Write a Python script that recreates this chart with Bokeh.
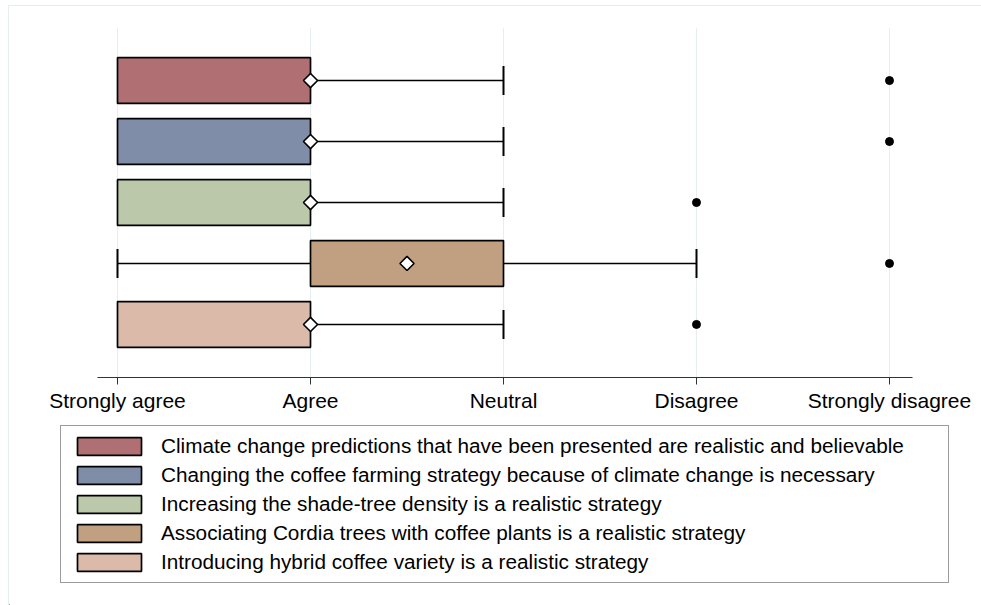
from bokeh.plotting import figure
from bokeh.layouts import column
from bokeh.models import Range1d, FixedTicker, Legend, LegendItem, ColumnDataSource
from bokeh.embed import file_html
from bokeh.resources import INLINE

# ---- data ----
statements = [
    "Climate change predictions that have been presented are realistic and believable",
    "Changing the coffee farming strategy because of climate change is necessary",
    "Increasing the shade-tree density is a realistic strategy",
    "Associating Cordia trees with coffee plants is a realistic strategy",
    "Introducing hybrid coffee variety is a realistic strategy",
]
rows = [1, 2, 3, 4, 5]
q1 = [1, 1, 1, 2, 1]
q3 = [2, 2, 2, 3, 2]
median = [2, 2, 2, 2.5, 2]
whisk_lo = [1, 1, 1, 1, 1]
whisk_hi = [3, 3, 3, 4, 3]
outliers = [5, 5, 4, 5, 4]
tick_values = [1, 2, 3, 4, 5]
tick_labels = ["Strongly agree", "Agree", "Neutral", "Disagree", "Strongly disagree"]
colors = ["#b07073", "#7f8da9", "#bbc9aa", "#c1a081", "#dbbaa9"]

FONT = "Liberation Sans"
FS = "21px"
LFS = "20.75px"
W = 972

p = figure(width=W, height=409, output_backend="svg", toolbar_location=None,
           x_range=Range1d(0.4404, 5.4767), y_range=Range1d(5.87, 0.13),
           min_border=0, min_border_left=0, min_border_right=0,
           min_border_top=21, min_border_bottom=38)
p.outline_line_color = None
p.background_fill_color = "white"
p.border_fill_color = "white"

# grid
p.ygrid.visible = False
p.xgrid.grid_line_color = "#e6eef0"
p.xgrid.grid_line_width = 1
p.yaxis.visible = False

# x axis
p.xaxis.ticker = FixedTicker(ticks=tick_values)
p.xgrid.ticker = FixedTicker(ticks=tick_values)
p.xaxis.bounds = (0.8964, 5.1192)
p.xaxis.major_label_overrides = {v: l for v, l in zip(tick_values, tick_labels)}
p.xaxis.minor_tick_line_color = None
p.xaxis.major_tick_in = 0
p.xaxis.major_tick_out = 7
p.xaxis.major_tick_line_color = "#333333"
p.xaxis.axis_line_color = "#333333"
p.xaxis.axis_line_width = 1
p.xaxis.major_label_text_font = FONT
p.xaxis.major_label_text_font_size = FS
p.xaxis.major_label_text_color = "black"
p.xaxis.major_label_standoff = 4

BOX_H = 0.75
CAP_H = 0.475

# upper whiskers and caps
wsrc = ColumnDataSource(dict(y=rows, x0=q3, x1=whisk_hi,
                             ya=[r - CAP_H / 2 for r in rows], yb=[r + CAP_H / 2 for r in rows]))
p.segment(x0="x0", y0="y", x1="x1", y1="y", source=wsrc, line_color="black", line_width=1.6)
p.segment(x0="x1", y0="ya", x1="x1", y1="yb", source=wsrc, line_color="black", line_width=2)

# lower whiskers only where they extend below the box
lo_rows = [r for r, a, b in zip(rows, whisk_lo, q1) if a < b]
lo_lo = [a for a, b in zip(whisk_lo, q1) if a < b]
lo_q1 = [b for a, b in zip(whisk_lo, q1) if a < b]
lsrc = ColumnDataSource(dict(y=lo_rows, x0=lo_lo, x1=lo_q1,
                             ya=[r - CAP_H / 2 for r in lo_rows], yb=[r + CAP_H / 2 for r in lo_rows]))
p.segment(x0="x0", y0="y", x1="x1", y1="y", source=lsrc, line_color="black", line_width=1.6)
p.segment(x0="x0", y0="ya", x1="x0", y1="yb", source=lsrc, line_color="black", line_width=2)

# boxes
for i in range(len(rows)):
    src = ColumnDataSource(dict(y=[rows[i]], left=[q1[i]], right=[q3[i]]))
    p.hbar(y="y", left="left", right="right", height=BOX_H, source=src,
           fill_color=colors[i], line_color="black", line_width=1.7)

# medians
p.scatter(x=median, y=rows, marker="square", angle=0.785398, size=10,
          fill_color="white", line_color="black", line_width=1.6)

# outliers
p.scatter(x=outliers, y=rows, marker="circle", size=8, fill_color="black", line_color="black")

# ---- legend panel (separate figure so the legend is not clipped) ----
lg = figure(width=W, height=190, output_backend="svg", toolbar_location=None,
            x_range=Range1d(100, 101), y_range=Range1d(100, 101),
            min_border=0, min_border_left=0, min_border_right=0,
            min_border_top=0, min_border_bottom=0)
lg.axis.visible = False
lg.grid.visible = False
lg.outline_line_color = None
lg.background_fill_color = "white"
lg.border_fill_color = "white"

items = []
for i in range(len(rows)):
    src = ColumnDataSource(dict(y=[rows[i]], left=[q1[i]], right=[q3[i]]))
    r = lg.hbar(y="y", left="left", right="right", height=BOX_H, source=src,
                fill_color=colors[i], line_color="black", line_width=1.7)
    items.append(LegendItem(label=statements[i], renderers=[r]))

legend = Legend(items=items, location=(51, 22), orientation="vertical",
                glyph_width=80, glyph_height=22, label_height=22, label_standoff=12,
                spacing=5, padding=8, margin=0,
                label_text_font=FONT, label_text_font_size=LFS, label_text_color="black",
                border_line_color="#3a3a3a", border_line_width=1.2,
                background_fill_color="white", background_fill_alpha=1.0,
                label_width=779)
lg.add_layout(legend, "center")

layout = column(p, lg, spacing=0)
layout.styles = {"margin-left": "8px", "margin-top": "5px",
                 "border-left": "1px solid #e6eeee", "border-top": "1px solid #e6eeee"}

open("out.html", "w").write(file_html(layout, INLINE))
